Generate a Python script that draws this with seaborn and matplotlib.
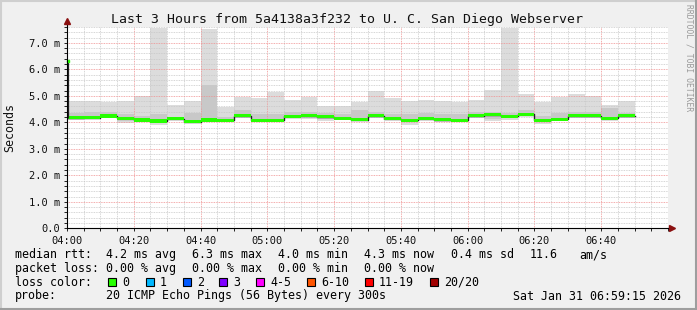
import numpy as np
import matplotlib
matplotlib.use("Agg")
import matplotlib.pyplot as plt
import seaborn as sns
from matplotlib.patches import Rectangle
from matplotlib.lines import Line2D

# ---------------- data ----------------
title = "Last 3 Hours from 5a4138a3f232 to U. C. San Diego Webserver"
x_tick_labels = ["04:00", "04:20", "04:40", "05:00", "05:20",
                 "05:40", "06:00", "06:20", "06:40"]
y_tick_labels = ["0.0", "1.0 m", "2.0 m", "3.0 m", "4.0 m",
                 "5.0 m", "6.0 m", "7.0 m"]

# 5-minute bins from 04:00 to 06:50 (values in ms)
median_ms = [4.17, 4.17, 4.24, 4.15, 4.09, 4.05, 4.13, 4.03, 4.09, 4.07,
             4.25, 4.07, 4.07, 4.23, 4.25, 4.22, 4.16, 4.10, 4.25, 4.13,
             4.07, 4.14, 4.10, 4.08, 4.25, 4.28, 4.23, 4.30, 4.07, 4.12,
             4.25, 4.25, 4.15, 4.25]
smoke_max = [4.82, 4.82, 4.75, 4.82, 5.00, 7.58, 4.65, 4.80, 7.54, 4.57,
             4.97, 4.93, 5.13, 4.85, 4.97, 4.62, 4.62, 4.75, 5.20, 4.92,
             4.82, 4.85, 4.81, 4.77, 4.85, 5.23, 7.58, 5.07, 4.75, 4.97,
             5.07, 5.00, 4.65, 4.82]
smoke_hi = [4.35, 4.40, 4.38, 4.30, 4.25, 4.30, 4.22, 4.35, 5.42, 4.20,
            4.45, 4.30, 4.30, 4.40, 4.40, 4.35, 4.30, 4.45, 4.40, 4.30,
            4.30, 4.35, 4.30, 4.30, 4.40, 4.40, 4.35, 4.45, 4.25, 4.35,
            4.40, 4.40, 4.55, 4.35]
smoke_lo = [4.13, 4.14, 4.18, 4.05, 4.05, 4.00, 4.10, 4.00, 4.06, 4.05,
            4.20, 4.05, 4.04, 4.18, 4.20, 4.12, 4.12, 4.07, 4.20, 4.10,
            4.00, 4.10, 4.05, 4.05, 4.20, 4.12, 4.15, 4.25, 4.00, 4.08,
            4.20, 4.20, 4.10, 4.20]
smoke_min = [4.10, 4.12, 4.15, 3.99, 4.02, 3.90, 4.08, 3.98, 4.03, 4.03,
             4.15, 4.03, 4.02, 4.12, 4.12, 4.05, 4.08, 4.04, 4.15, 4.08,
             3.90, 4.08, 4.02, 4.03, 4.15, 4.05, 4.08, 4.20, 3.93, 4.05,
             4.17, 4.17, 4.05, 4.17]
first_median = 6.3

rtt_label = "median rtt:"
rtt_stats = ["4.2 ms avg", "6.3 ms max", "4.0 ms min", "4.3 ms now",
             "0.4 ms sd", "11.6", "am/s"]
loss_label = "packet loss:"
loss_stats = ["0.00 % avg", "0.00 % max", "0.00 % min", "0.00 % now"]
loss_color_names = ["0", "1", "2", "3", "4-5", "6-10", "11-19", "20/20"]
loss_colors = ["#26ff00", "#00b8ff", "#0059ff", "#7e00ff", "#ff00ff",
               "#ff5500", "#ff0000", "#a00000"]
probe_text = "20 ICMP Echo Pings (56 Bytes) every 300s"
date_text = "Sat Jan 31 06:59:15 2026"
credit = "RRDTOOL / TOBI OETIKER"

# ---------------- styling ----------------
W, H = 697, 310
MONO = "DejaVu Sans Mono"
plt.rcParams["font.family"] = MONO
fig = plt.figure(figsize=(W / 100, H / 100), dpi=100, facecolor="#f0f0f0")

def fx(px):
    return px / W

def fy(py):
    return 1 - py / H

ax_left, ax_right, ax_top, ax_bottom = 67, 668, 27, 228.3
ax = fig.add_axes([fx(ax_left), fy(ax_bottom), fx(ax_right - ax_left),
                   (ax_bottom - ax_top) / H])
ax.set_facecolor("white")

edges = np.arange(0, 5 * len(median_ms) + 1, 5)

def stepv(v):
    v = np.asarray(v, dtype=float)
    return np.append(v, v[-1])

ax.fill_between(edges, stepv(smoke_min), stepv(smoke_max), step="post",
                color="#dcdcdc", lw=0, zorder=1)
ax.fill_between(edges, stepv(smoke_lo), stepv(smoke_hi), step="post",
                color="#c8c8c8", lw=0, zorder=1.1)
sns.lineplot(x=edges, y=stepv(median_ms), drawstyle="steps-post",
             color="#202020", lw=1.0, ax=ax, zorder=2, estimator=None,
             sort=False)
med = stepv(median_ms)
ax.fill_between(edges, med - 0.058, med + 0.058, step="post",
                color=loss_colors[0], lw=0, zorder=2.2)
# first sample
ax.vlines(0.3, median_ms[0], first_median, color="#202020", lw=0.9,
          zorder=2.3, clip_on=False)
ax.plot([0.3], [first_median], marker="s", ms=2, color=loss_colors[0],
        zorder=2.4, clip_on=False, lw=0)

ax.set_xlim(0, 180)
ax.set_ylim(0, 7.6)
ax.set_xticks(np.arange(0, 161, 20))
ax.set_xticklabels(x_tick_labels)
ax.set_xticks(np.arange(0, 181, 5), minor=True)
ax.set_yticks(np.arange(0, 8, 1))
ax.set_yticklabels(y_tick_labels)
ax.set_yticks(np.arange(0, 7.61, 0.2), minor=True)

ax.set_axisbelow("line")
ax.grid(which="minor", color="#c8c8c8", linestyle=(0, (1, 1)), lw=0.6)
ax.grid(which="major", color="#f09090", linestyle=(0, (1, 1)), lw=0.6)

for s in ("top", "right"):
    ax.spines[s].set_visible(False)
for s in ("left", "bottom"):
    ax.spines[s].set_color("black")
    ax.spines[s].set_linewidth(0.8)
    ax.spines[s].set_zorder(3)

ax.tick_params(which="both", direction="out", length=2.2, width=0.6,
               color="black", labelsize=7.5, labelcolor="#111111")
ax.tick_params(axis="y", pad=3.0)
ax.tick_params(axis="x", pad=3.5)

# arrows
ax.add_line(Line2D([0, 0], [1, 1.03], transform=ax.transAxes,
                   color="black", lw=0.8, clip_on=False))
ax.plot([0], [1.03], transform=ax.transAxes, marker="^", ms=4.5,
        color="#8a1010", clip_on=False)
ax.add_line(Line2D([1, 1.007], [0, 0], transform=ax.transAxes,
                   color="black", lw=0.8, clip_on=False))
ax.plot([1.007], [0], transform=ax.transAxes, marker=">", ms=4.5,
        color="#8a1010", clip_on=False)

ax.set_ylabel("")
ax.set_xlabel("")

# texts
fig.text(fx(347), fy(19), title, ha="center", va="center", fontsize=9.5,
         color="#111111")
fig.text(fx(10), fy(127.5), "Seconds", rotation=90, ha="center",
         va="center", fontsize=8.4, color="#111111")
fig.text(fx(688.5), fy(58), credit, rotation=-90, ha="center",
         va="center", fontsize=5.8, color="#9a9a9a")

LFS = 8.4
rows = [254.5, 268.3, 282.3, 296.0]
fig.text(fx(15), fy(rows[0]), rtt_label, ha="left", va="center", fontsize=LFS)
for xp, t in zip([106, 192, 278, 364, 451, 530, 579], rtt_stats):
    fig.text(fx(xp), fy(rows[0]), t, ha="left", va="center", fontsize=LFS)
fig.text(fx(15), fy(rows[1]), loss_label, ha="left", va="center", fontsize=LFS)
for xp, t in zip([106, 192, 278, 364], loss_stats):
    fig.text(fx(xp), fy(rows[1]), t, ha="left", va="center", fontsize=LFS)
fig.text(fx(15), fy(rows[2]), "loss color:", ha="left", va="center",
         fontsize=LFS)
sq_x = [108, 146, 183, 219, 256, 307, 365, 430]
for xp, name, col in zip(sq_x, loss_color_names, loss_colors):
    fig.add_artist(Rectangle((fx(xp), fy(rows[2] + 4)), fx(8), 8 / H,
                             transform=fig.transFigure, facecolor=col,
                             edgecolor="black", lw=0.8))
    fig.text(fx(xp + 14), fy(rows[2]), name, ha="left", va="center",
             fontsize=LFS)
fig.text(fx(15), fy(rows[3]), "probe:", ha="left", va="center", fontsize=LFS)
fig.text(fx(106), fy(rows[3]), probe_text, ha="left", va="center",
         fontsize=LFS)
fig.text(fx(681), fy(rows[3]), date_text, ha="right", va="center",
         fontsize=LFS)

# frame shading
fig.add_artist(Line2D([0, 1], [fy(0.75), fy(0.75)], transform=fig.transFigure,
                      color="#cfcfcf", lw=1.5))
fig.add_artist(Line2D([fx(0.75), fx(0.75)], [0, 1], transform=fig.transFigure,
                      color="#cfcfcf", lw=1.5))
fig.add_artist(Line2D([0, 1], [fy(H - 1), fy(H - 1)], transform=fig.transFigure,
                      color="#9e9e9e", lw=1.5))
fig.add_artist(Line2D([fx(W - 1), fx(W - 1)], [0, 1], transform=fig.transFigure,
                      color="#9e9e9e", lw=1.5))

fig.savefig("out.png", dpi=100, facecolor=fig.get_facecolor())
